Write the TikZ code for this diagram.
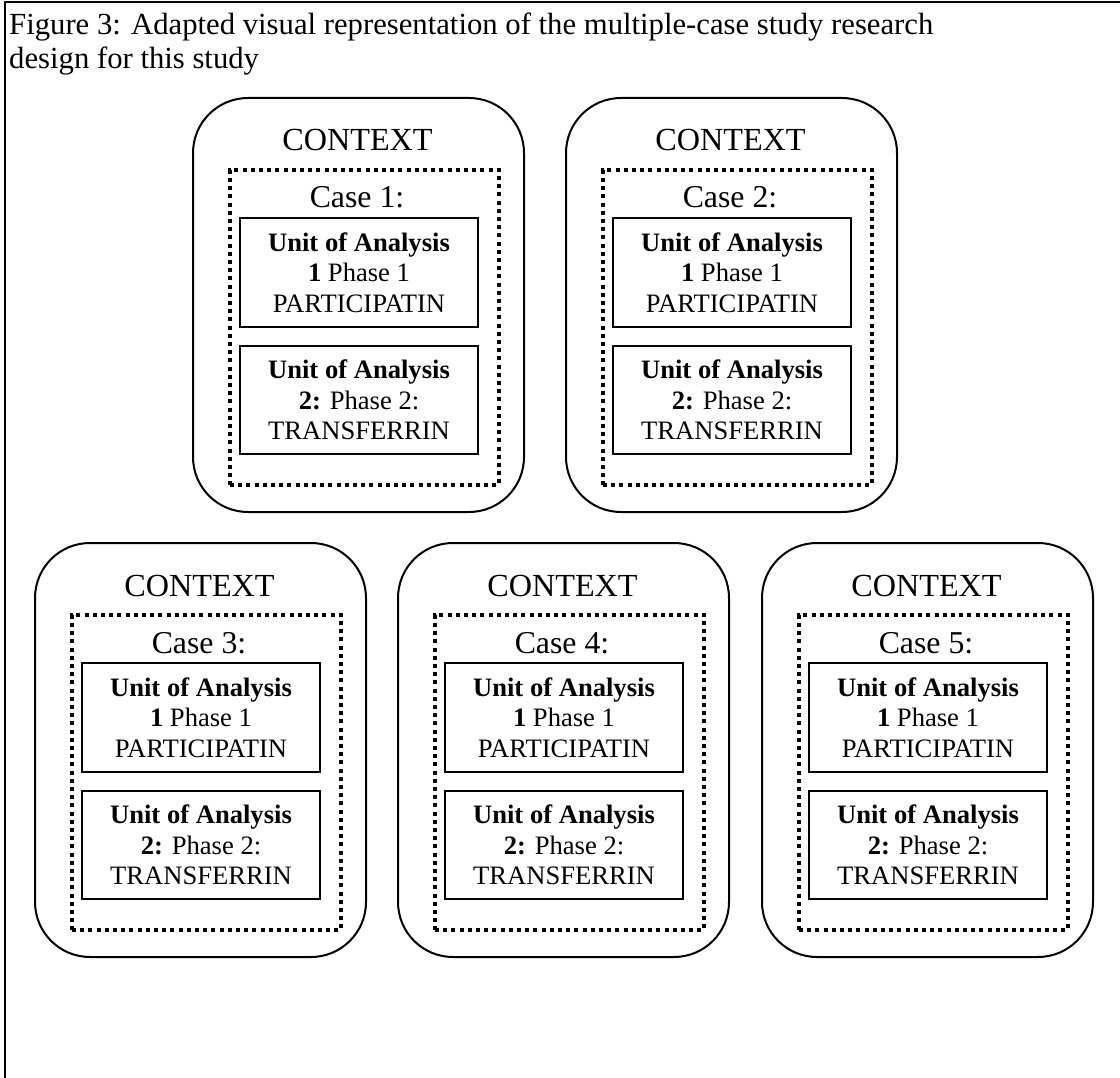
\documentclass[tikz,border=0pt]{standalone}
\usepackage{fontspec}
\setmainfont{Liberation Serif}
\tikzset{
  frame/.style={line width=2.5pt},
  ctxbox/.style={draw, line width=2pt, rounded corners=55pt, minimum width=331pt, minimum height=414pt, anchor=north west, inner sep=0pt},
  dotbox/.style={draw, line width=4pt, dash pattern=on 4pt off 4.2pt, minimum width=269pt, minimum height=315pt, anchor=north west, inner sep=0pt},
  unitbox/.style={draw, line width=2pt, minimum width=238pt, anchor=north west, inner sep=0pt, align=center, font=\fontsize{26.6}{30.5}\selectfont},
  ctxlabel/.style={anchor=base, inner sep=0pt, font=\fontsize{32.2}{36}\selectfont},
  caselabel/.style={anchor=base, inner sep=0pt, font=\fontsize{31.8}{36}\selectfont},
  titletext/.style={anchor=base west, inner sep=0pt, font=\fontsize{30.7}{34}\selectfont}
}
\newcommand\casebox[4]{%
  \node[ctxbox] (#1) at (#2,#3) {};
  \node[ctxlabel] (#1ctx) at (#2+165.5,#3+54) {CONTEXT};
  \node[dotbox] (#1dot) at (#2+36,#3+71) {};
  \node[caselabel] (#1case) at (#2+165,#3+111) {Case #4:};
  \node[unitbox, minimum height=109pt] (#1ua) at (#2+47,#3+120) {\textbf{Unit of Analysis}\\\textbf{1} Phase 1\\PARTICIPATIN};
  \node[unitbox, minimum height=108pt] (#1ub) at (#2+47,#3+248) {\textbf{Unit of Analysis}\\\textbf{2:} Phase 2:\\TRANSFERRIN};
}
\begin{document}
\begin{tikzpicture}[x=1pt,y=-1pt]
\useasboundingbox (0,0) rectangle (1120,1078);
\coordinate (fr) at (1120,2);
\coordinate (ftl) at (5,2);
\coordinate (fb) at (5,1078);
\draw[frame] (fr) -- (ftl) -- (fb);
\node[titletext] (title1) at (9,35) {Figure 3: Adapted visual representation of the multiple-case study research};
\node[titletext] (title2) at (9,69) {design for this study};
\casebox{c1}{192}{97}{1}
\casebox{c2}{565}{97}{2}
\casebox{c3}{34}{542}{3}
\casebox{c4}{397}{542}{4}
\casebox{c5}{761}{542}{5}
\end{tikzpicture}
\end{document}
